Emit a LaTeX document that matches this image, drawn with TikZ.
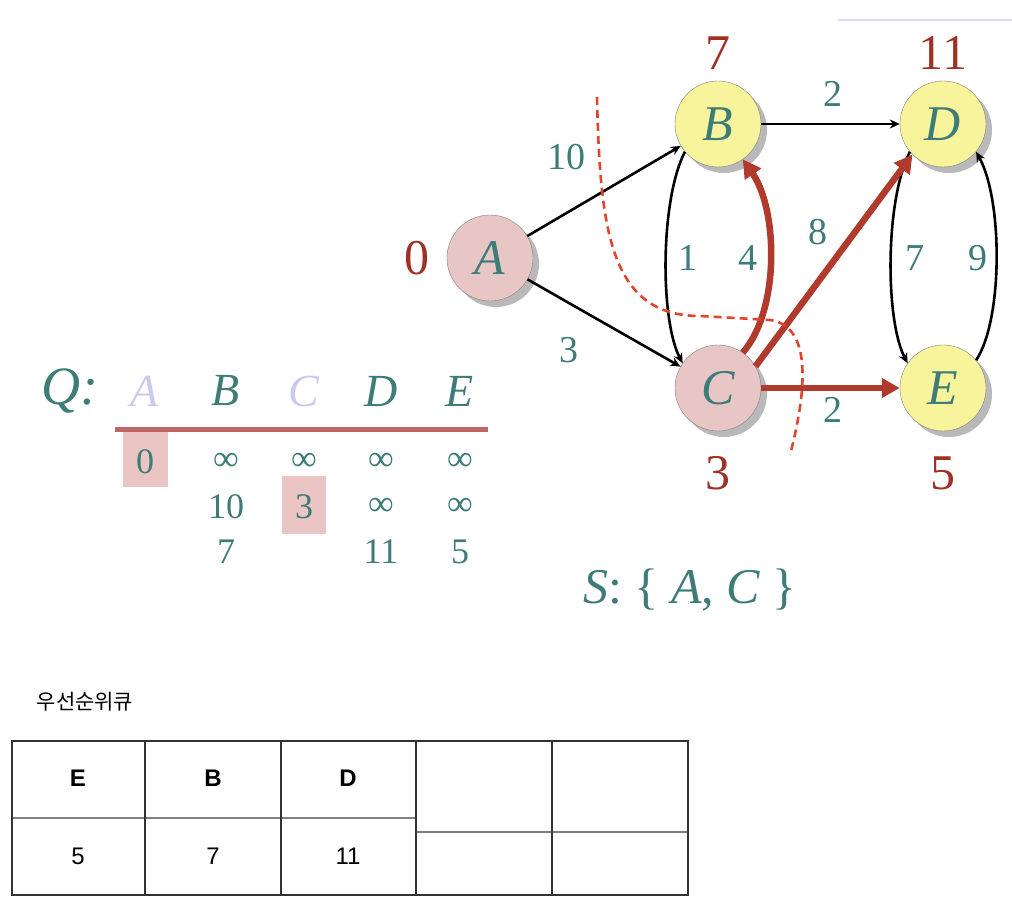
\documentclass[tikz,border=0pt]{standalone}
\usepackage{fontspec}
\setmainfont{Liberation Serif}
\newfontfamily\tabfont{Liberation Sans}
\newfontfamily\kofont{Noto Sans CJK KR}
\usepackage{xcolor}
\usetikzlibrary{arrows.meta,positioning,shadows}

\definecolor{tealtxt}{HTML}{3E7C78}
\definecolor{distred}{HTML}{9E3226}
\definecolor{edgered}{HTML}{B03A2C}
\definecolor{nodepink}{HTML}{E8C6C6}
\definecolor{nodeyellow}{HTML}{F8F49C}
\definecolor{lav}{HTML}{C9CAF0}
\definecolor{cutred}{HTML}{E2452F}
\definecolor{boxpink}{HTML}{EBC4C4}
\definecolor{qline}{HTML}{BF6666}

\tikzset{
  vert/.style={circle, draw=black!50, thin, minimum size=86pt, inner sep=0pt,
    font=\fontsize{50}{50}\selectfont\itshape, text=tealtxt,
    drop shadow={shadow xshift=6pt, shadow yshift=-6pt, fill=black!55}},
  dist/.style={font=\fontsize{50}{50}\selectfont, text=distred},
  wlab/.style={font=\fontsize{38}{38}\selectfont, text=tealtxt},
  qhead/.style={font=\fontsize{46}{46}\selectfont\itshape, text=tealtxt},
  qval/.style={font=\fontsize{36}{36}\selectfont, text=tealtxt},
  arr/.style={-{Stealth[length=10pt,width=9pt]}, line width=2.6pt, black},
  redarr/.style={-{Triangle[length=18pt,width=19pt]}, line width=6.5pt, edgered},
  cell/.style={font=\tabfont\fontsize{24}{24}\selectfont}
}

\begin{document}
\begin{tikzpicture}[x=1pt, y=-1pt]
\useasboundingbox (0,0) rectangle (1012,912);
\draw[lav!70, line width=1.5pt] (838,20) -- (1012,20);

% graph
\node[vert, fill=nodepink] (A) at (490,258) {A};
\node[vert, fill=nodeyellow] (B) at (718,124) {B};
\node[vert, fill=nodeyellow] (D) at (943,124) {D};
\node[vert, fill=nodepink] (C) at (718,388) {C};
\node[vert, fill=nodeyellow] (E) at (943,388) {E};

\node[dist, left=14pt of A] (dA) {0};
\node[dist, above=8pt of B] (dB) {7};
\node[dist, above=8pt of D] (dD) {11};
\node[dist, below=22pt of C] (dC) {3};
\node[dist, below=22pt of E] (dE) {5};

\draw[arr] (A) -- (B);
\draw[arr] (A) -- (C);
\draw[arr] (B) -- (D);
\draw[arr] (B.220) .. controls (660,200) and (660,320) .. (C.145);
\draw[arr] (D.220) .. controls (885,200) and (885,320) .. (E.145);
\draw[arr] (E.40) .. controls (1003,320) and (1003,200) .. (D.-40);
\draw[redarr] (C.55) .. controls (780,310) and (778,210) .. (B.-55);
\draw[redarr] (C.30) -- (D.-135);
\draw[redarr] (C) -- (E);

\node[wlab] (w10) at (566,157) {10};
\node[wlab] (w3) at (569,350) {3};
\node[wlab] (wBD) at (833,94) {2};
\node[wlab] (w1) at (688,258) {1};
\node[wlab] (w4) at (748,258) {4};
\node[wlab] (w8) at (818,232) {8};
\node[wlab] (w7) at (915,258) {7};
\node[wlab] (w9) at (978,258) {9};
\node[wlab] (wCE) at (833,410) {2};

% cut between S and Q
\draw[cutred, line width=2.6pt, dash pattern=on 8pt off 5pt]
  (597,97) .. controls (600,230) and (610,316) .. (700,316)
  -- (770,320) .. controls (805,325) and (812,370) .. (790,455);

% queue Q
\fill[boxpink] (123,429) rectangle (168,487);
\fill[boxpink] (282,476) rectangle (326,534);
\draw[qline, line width=5pt] (115,429) -- (488,429);
\node[qhead, font=\fontsize{54}{54}\selectfont\itshape] (Q) at (70,391) {Q:};
\foreach \n/\x/\c in {A/145/lav, B/226/tealtxt, C/304/lav, D/381/tealtxt, E/460/tealtxt}
  \node[qhead, text=\c] (q\n) at (\x,391) {\n};
\foreach \n/\x/\a in {A/145/0, B/226/∞, C/304/∞, D/381/∞, E/460/∞}
  \node[qval] (r1\n) at (\x,462) {\a};
\foreach \n/\x/\a in {B/226/10, C/304/3, D/381/∞, E/460/∞}
  \node[qval] (r2\n) at (\x,507) {\a};
\foreach \n/\x/\a in {B/226/7, D/381/11, E/460/5}
  \node[qval] (r3\n) at (\x,552) {\a};

\node[font=\fontsize{50}{50}\selectfont, text=tealtxt] (S) at (690,590)
  {\textit{S}: \{ \textit{A}, \textit{C} \}};

% priority queue table
\node[font=\kofont\fontsize{21}{21}\selectfont] (pq) at (85,702) {우선순위큐};
\draw[black!50, line width=1.2pt] (12,818) -- (416,818);
\draw[black!50, line width=1.2pt] (416,832) -- (688,832);
\foreach \x in {145,281,416,552}
  \draw[black!80, line width=1.6pt] (\x,741) -- (\x,895);
\draw[black!80, line width=1.6pt] (12,741) rectangle (688,895);
\foreach \n/\x/\v in {E/78/5, B/213/7, D/348/11} {
  \node[cell, font=\tabfont\bfseries\fontsize{24}{24}\selectfont] (h\n) at (\x,778) {\n};
  \node[cell] (v\n) at (\x,856) {\v};
}
\end{tikzpicture}
\end{document}
